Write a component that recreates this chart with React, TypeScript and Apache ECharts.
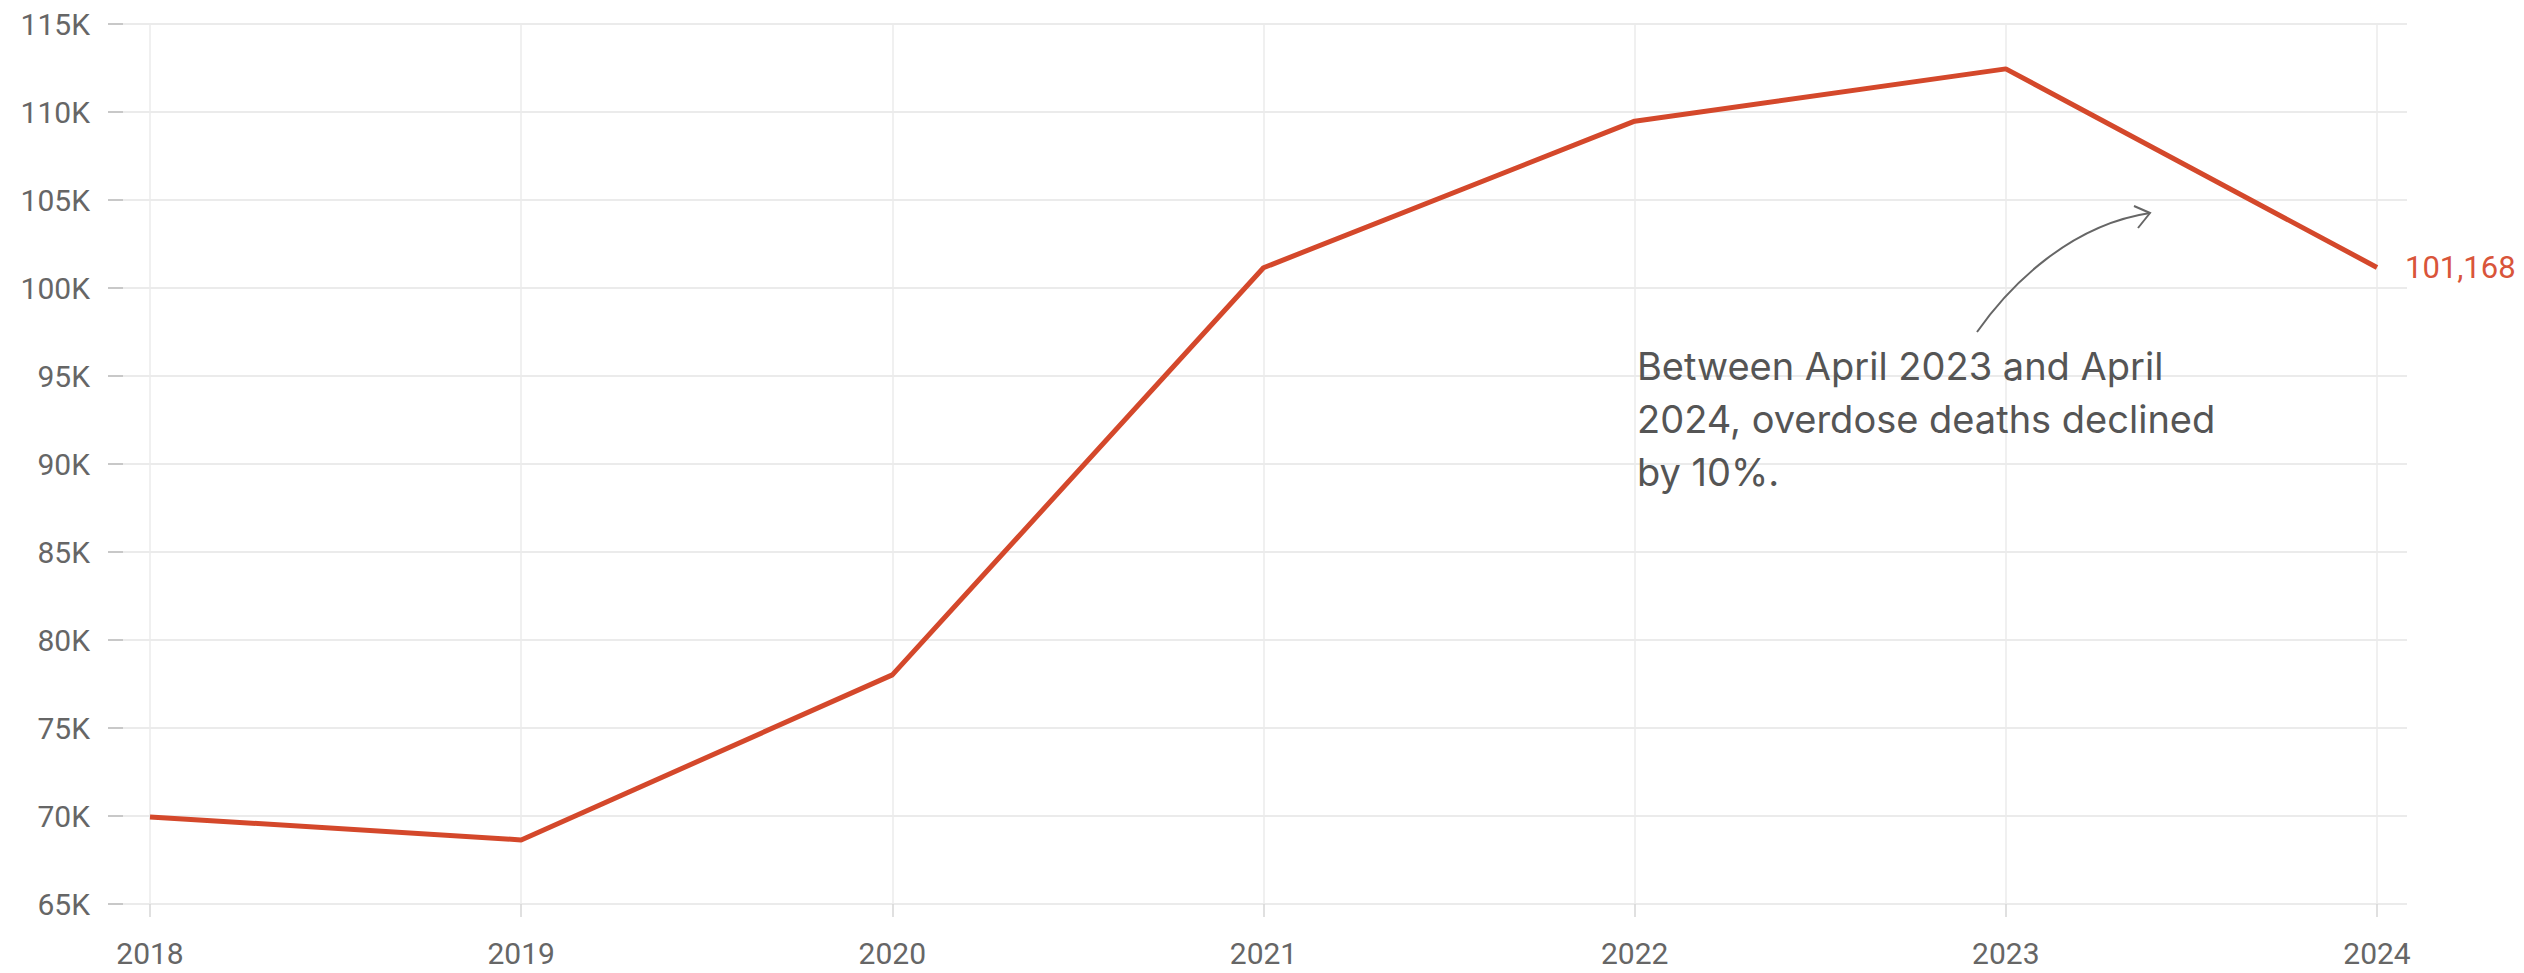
import React, { useEffect, useRef } from "react";
import * as echarts from "echarts";

// Overdose deaths, 12 months ending in April of each year
const years = ["2018", "2019", "2020", "2021", "2022", "2023", "2024"];
const deaths = [69950, 68640, 78020, 101150, 109480, 112450, 101168];

// Y-axis range and step
const yMin = 65000;
const yMax = 115000;
const yStep = 5000;

const annotationLines = [
  "Between April 2023 and April",
  "2024, overdose deaths declined",
  "by 10%.",
];

const FONT = "Roboto, 'Noto Sans', sans-serif";
const NOTE_FONT = "Inter, Roboto, sans-serif";
const RED = "#d4482b";
const GRID_COLOR = "#ebebeb";

export default function App() {
  const ref = useRef<HTMLDivElement>(null);

  useEffect(() => {
    if (!ref.current) return;
    const chart = echarts.init(ref.current, undefined, { renderer: "svg" });

    chart.setOption({
      animation: false,
      backgroundColor: "#ffffff",
      grid: [
        // data area
        { left: 150, right: 147, top: 24, bottom: 69 },
        // wider frame carrying the horizontal guides and y labels
        { left: 123, right: 117, top: 24, bottom: 69 },
      ],
      xAxis: [
        {
          type: "category",
          gridIndex: 0,
          data: years,
          boundaryGap: false,
          axisLine: { show: false },
          axisTick: {
            show: true,
            length: 13,
            lineStyle: { color: "#d6d6d6", width: 1.5 },
          },
          splitLine: {
            show: true,
            lineStyle: { color: GRID_COLOR, width: 1.5 },
          },
          axisLabel: {
            fontSize: 30,
            fontFamily: FONT,
            color: "#666",
            margin: 34,
          },
        },
        { type: "value", gridIndex: 1, show: false },
      ],
      yAxis: [
        {
          type: "value",
          gridIndex: 0,
          min: yMin,
          max: yMax,
          interval: yStep,
          show: false,
          splitLine: { show: false },
        },
        {
          type: "value",
          gridIndex: 1,
          min: yMin,
          max: yMax,
          interval: yStep,
          axisLine: { show: false },
          axisTick: {
            show: true,
            length: 15,
            lineStyle: { color: "#c8c8c8", width: 2 },
          },
          splitLine: { show: true, lineStyle: { color: GRID_COLOR, width: 2 } },
          axisLabel: {
            fontSize: 30,
            fontFamily: FONT,
            color: "#666",
            margin: 33,
            formatter: (v: number) => `${v / 1000}K`,
          },
        },
      ],
      series: [
        {
          type: "line",
          xAxisIndex: 0,
          yAxisIndex: 0,
          data: deaths,
          showSymbol: false,
          symbol: "none",
          lineStyle: { color: RED, width: 5 },
          itemStyle: { color: RED },
          endLabel: {
            show: true,
            distance: 28,
            formatter: (p: any) => Number(p.value).toLocaleString("en-US"),
            color: "#d9553a",
            fontSize: 31,
            fontFamily: FONT,
          },
          z: 5,
        },
      ],
      graphic: [
        {
          type: "text",
          left: 1637,
          top: 339,
          style: {
            text: annotationLines.join("\n"),
            fontSize: 38,
            lineHeight: 53,
            fontFamily: NOTE_FONT,
            fill: "#555",
          },
          z: 10,
        },
        {
          type: "bezierCurve",
          shape: {
            x1: 1977,
            y1: 332,
            cpx1: 2010,
            cpy1: 285,
            cpx2: 2070,
            cpy2: 225,
            x2: 2150,
            y2: 213,
          },
          style: { stroke: "#666", lineWidth: 2, fill: "none" },
          z: 10,
        },
        {
          type: "polyline",
          shape: {
            points: [
              [2134, 206],
              [2150, 213],
              [2138, 228],
            ],
          },
          style: { stroke: "#666", lineWidth: 2, fill: "none" },
          z: 10,
        },
      ],
    });

    return () => chart.dispose();
  }, []);

  return (
    <div
      ref={ref}
      style={{
        position: "absolute",
        left: 0,
        top: 0,
        width: 2524,
        height: 973,
      }}
    />
  );
}
